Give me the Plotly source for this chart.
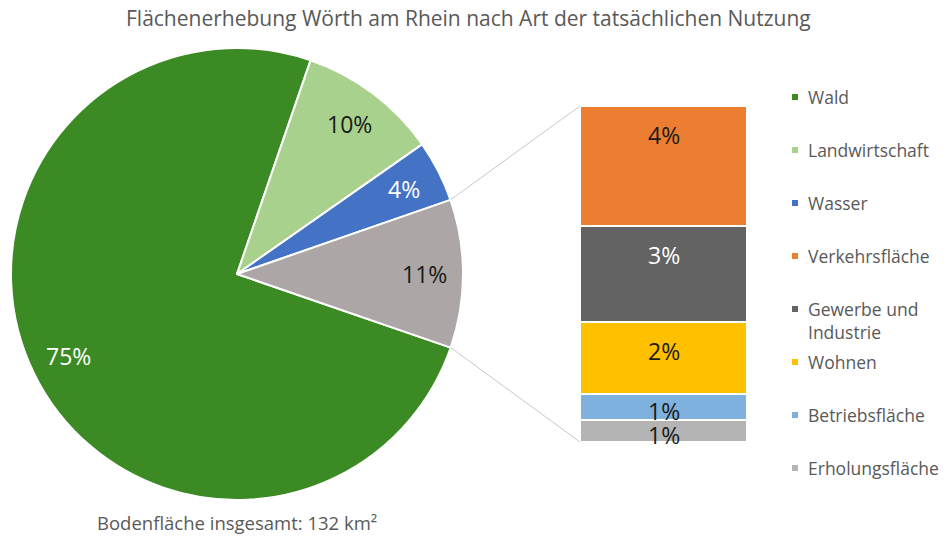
import math
import plotly.graph_objects as go

# ---------------- data ----------------
pie_labels = ["Wald", "Landwirtschaft", "Wasser", "Sonstige"]
pie_values = [75.0, 10.0, 4.4, 10.6]
pie_colors = ["#3B8A24", "#A9D18E", "#4472C4", "#ACA7A6"]
pie_text_colors = ["white", "#1a1a1a", "white", "#1a1a1a"]

bar_labels = ["Verkehrsfläche", "Gewerbe und Industrie", "Wohnen", "Betriebsfläche", "Erholungsfläche"]
bar_values = [3.8, 3.0, 2.3, 0.8, 0.7]
bar_colors = ["#ED7D31", "#636363", "#FFC000", "#7FB1DF", "#B4B4B4"]
bar_text_colors = ["#1a1a1a", "white", "#1a1a1a", "#1a1a1a", "#1a1a1a"]

legend_labels = ["Wald", "Landwirtschaft", "Wasser", "Verkehrsfläche",
                 "Gewerbe und<br>Industrie", "Wohnen", "Betriebsfläche", "Erholungsfläche"]
legend_colors = ["#3B8A24", "#A9D18E", "#4472C4", "#ED7D31", "#636363", "#FFC000", "#7FB1DF", "#B4B4B4"]

title = "Flächenerhebung Wörth am Rhein nach Art der tatsächlichen Nutzung"
subtitle = "Bodenfläche insgesamt: 132 km²"

# ---------------- layout geometry ----------------
W, H = 947, 536
FONT = "Open Sans"
GREY = "#595959"
pie_cx, pie_cy, pie_r = 237, 274, 226          # pixels
pie_rotation = 109                              # start angle of first slice (clockwise from 12 o'clock)
bar_x0, bar_x1, bar_top, bar_bot = 580, 747, 106, 442

fig = go.Figure()

fig.add_trace(go.Pie(
    labels=pie_labels, values=pie_values, sort=False, direction="clockwise",
    rotation=pie_rotation,
    marker=dict(colors=pie_colors, line=dict(color="white", width=2)),
    textinfo="none", hoverinfo="label+percent", showlegend=False,
    domain=dict(x=[(pie_cx - pie_r) / W, (pie_cx + pie_r) / W],
                y=[1 - (pie_cy + pie_r) / H, 1 - (pie_cy - pie_r) / H]),
))

# stacked bar (bottom to top)
for lab, val, col in reversed(list(zip(bar_labels, bar_values, bar_colors))):
    fig.add_trace(go.Bar(
        x=["Sonstige"], y=[val], name=lab, marker=dict(color=col, line=dict(color="white", width=2)),
        showlegend=False, hoverinfo="name+y",
    ))

total_bar = sum(bar_values)
fig.update_layout(
    width=W, height=H, margin=dict(l=0, r=0, t=0, b=0),
    paper_bgcolor="white", plot_bgcolor="white",
    barmode="stack", bargap=0,
    xaxis=dict(domain=[bar_x0 / W, bar_x1 / W], visible=False, fixedrange=True),
    yaxis=dict(domain=[1 - bar_bot / H, 1 - bar_top / H], range=[0, total_bar], visible=False, fixedrange=True),
    font=dict(family=FONT, color=GREY),
)

annotations = []
shapes = []

# pie labels at mid-angle, 0.83 radius
total_pie = sum(pie_values)
angle = pie_rotation
bounds = []
for lab, val, tc in zip(pie_labels, pie_values, pie_text_colors):
    span = val / total_pie * 360
    bounds.append((angle, angle + span))
    mid = math.radians(angle + span / 2)
    px = pie_cx + 0.83 * pie_r * math.sin(mid)
    py = pie_cy - 0.83 * pie_r * math.cos(mid)
    annotations.append(dict(x=px / W, y=1 - py / H, xref="paper", yref="paper",
                            xanchor="center", yanchor="middle",
                            text=f"{round(val)}%", showarrow=False,
                            font=dict(size=23, color=tc, family=FONT)))
    angle += span

# connector lines from the "Sonstige" slice to the bar
a0, a1 = bounds[-1]
for ang, by in ((a0, bar_top), (a1, bar_bot)):
    r = math.radians(ang)
    sx = pie_cx + pie_r * math.sin(r)
    sy = pie_cy - pie_r * math.cos(r)
    shapes.append(dict(type="line", xref="paper", yref="paper",
                       x0=sx / W, y0=1 - sy / H, x1=bar_x0 / W, y1=1 - by / H,
                       line=dict(color="#C8C8C8", width=1)))

# bar labels
px_per_unit = (bar_bot - bar_top) / total_bar
top = total_bar
for lab, val, tc in zip(bar_labels, bar_values, bar_text_colors):
    seg_px = val * px_per_unit
    if seg_px > 58:
        y, shift = top, -29
    else:
        y, shift = top - val / 2, -4
    annotations.append(dict(x="Sonstige", y=y, xref="x", yref="y", yshift=shift,
                            xanchor="center", yanchor="middle",
                            text=f"{round(val)}%", showarrow=False,
                            font=dict(size=23, color=tc, family=FONT)))
    top -= val

# legend
leg_y = [97, 150, 203, 256, 320, 362, 415, 468]
for lab, col, ly in zip(legend_labels, legend_colors, leg_y):
    cy = ly if "<br>" not in lab else ly - 11
    shapes.append(dict(type="rect", xref="paper", yref="paper",
                       x0=792 / W, x1=798 / W,
                       y0=1 - (cy + 3) / H, y1=1 - (cy - 3) / H,
                       fillcolor=col, line=dict(width=0)))
    annotations.append(dict(x=806 / W, y=1 - ly / H, xref="paper", yref="paper",
                            xanchor="left", yanchor="middle", align="left",
                            text=lab, showarrow=False,
                            font=dict(size=17.5, color=GREY, family=FONT)))

annotations.append(dict(x=468 / W, y=1 - 18 / H, xref="paper", yref="paper",
                        xanchor="center", yanchor="middle",
                        text=title, showarrow=False, font=dict(size=21, color=GREY, family=FONT)))
annotations.append(dict(x=237 / W, y=1 - 522 / H, xref="paper", yref="paper",
                        xanchor="center", yanchor="middle",
                        text=subtitle, showarrow=False, font=dict(size=18.5, color=GREY, family=FONT)))

fig.update_layout(annotations=annotations, shapes=shapes)
fig.write_html("out.html", config={"displayModeBar": False},
               post_script="document.body.style.margin='0';")
